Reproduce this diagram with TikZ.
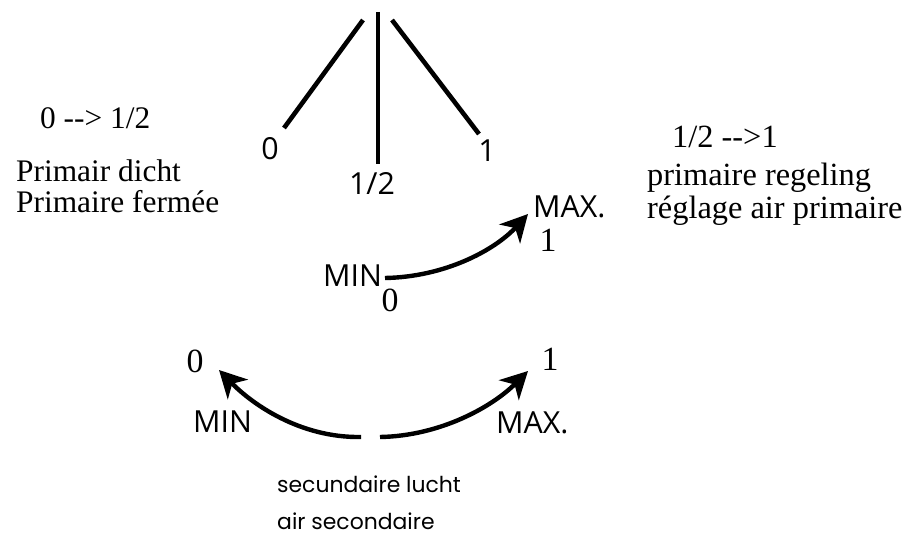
\documentclass[tikz,border=0pt]{standalone}
\usepackage{fontspec}
\setmainfont{Liberation Serif}
\newfontfamily\labsans{Open Sans}
\newfontfamily\geofont{Poppins}
\usetikzlibrary{arrows.meta}
\tikzset{
  serif/.style={inner sep=0pt, font=\fontsize{31.5}{34}\selectfont},
  serifR/.style={inner sep=0pt, font=\fontsize{32.5}{35}\selectfont},
  digit/.style={inner sep=0pt, font=\fontsize{34}{36}\selectfont},
  sanslab/.style={inner sep=0pt, font=\labsans\fontsize{30.5}{32}\selectfont},
  geolab/.style={inner sep=0pt, font=\geofont\fontsize{22}{24}\selectfont},
  bar/.style={line width=4.6bp},
  curvearrow/.style={line width=4.4bp, -{Stealth[length=27bp, width=28bp, inset=8bp]}}
}
\begin{document}
\begin{tikzpicture}[x=1bp, y=-1bp]
\useasboundingbox (0,0) rectangle (906,535);

% top fan of lines
\draw[bar] (363,20) -- (284,128);
\draw[bar] (378,12) -- (378,164);
\draw[bar] (392,20) -- (479,134);
\node[sanslab, anchor=base] (z0) at (270,160) {0};
\node[sanslab, anchor=base] (zh) at (372,195) {1/2};
\node[sanslab, anchor=base] (z1) at (487,162) {1};

% left texts
\node[serif, anchor=base west] (t1) at (40,129) {0 -{}-> 1/2};
\node[serif, anchor=base west] (t2) at (16,182) {Primair dicht};
\node[serif, anchor=base west] (t3) at (16,213) {Primaire fermée};

% right texts
\node[serifR, anchor=base west] (r1) at (672,148) {1/2 -{}->1};
\node[serifR, anchor=base west] (r2) at (647,186) {primaire regeling};
\node[serifR, anchor=base west] (r3) at (647,219) {réglage air primaire};

% middle arrow
\node[sanslab, anchor=base west] (minT) at (323,287) {MIN};
\node[digit, anchor=base] (minT0) at (390,312) {0};
\node[sanslab, anchor=base west] (maxT) at (533,218) {MAX.};
\node[digit, anchor=base] (maxT1) at (548,252) {1};
\coordinate (aS) at (385,278);
\coordinate (aE) at (528,214);
\draw[curvearrow] (aS) .. controls (445,277) and (495,250) .. (aE);

% bottom arrows
\node[digit, anchor=base] (b0) at (195,372) {0};
\node[digit, anchor=base] (b1) at (550,370) {1};
\node[sanslab, anchor=base west] (bmin) at (193,432) {MIN};
\node[sanslab, anchor=base west] (bmax) at (496,433) {MAX.};
\coordinate (lS) at (361,437);
\coordinate (lE) at (219,370);
\coordinate (rS) at (380,437);
\coordinate (rE) at (528,371);
\draw[curvearrow] (lS) .. controls (300,438) and (252,404) .. (lE);
\draw[curvearrow] (rS) .. controls (440,436) and (492,407) .. (rE);

% bottom caption
\node[geolab, anchor=base west] (c1) at (277,492) {secundaire lucht};
\node[geolab, anchor=base west] (c2) at (277,529) {air secondaire};
\end{tikzpicture}
\end{document}
